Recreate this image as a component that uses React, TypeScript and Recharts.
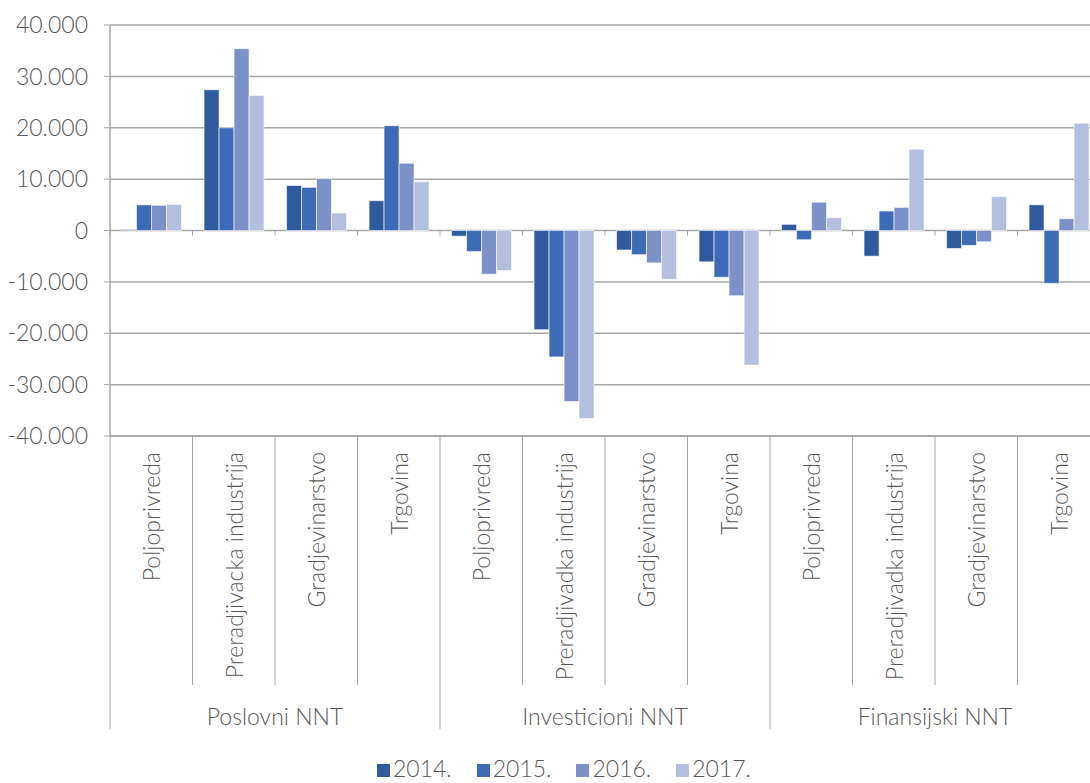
import { BarChart, Bar, XAxis, YAxis, CartesianGrid, Legend } from "recharts";

const groups = ["Poslovni NNT", "Investicioni NNT", "Finansijski NNT"];
const sectors = [
    ["Poljoprivreda", "Preradjivacka industrija", "Gradjevinarstvo", "Trgovina"],
    ["Poljoprivreda", "Preradjivadka industrija", "Gradjevinarstvo", "Trgovina"],
    ["Poljoprivreda", "Preradjivadka industrija", "Gradjevinarstvo", "Trgovina"],
];
const years = ["2014.", "2015.", "2016.", "2017."];

const v2014 = [200, 27400, 8750, 5800, -1100, -19300, -3800, -6100, 1200, -5000, -3500, 5000];
const v2015 = [5000, 20000, 8400, 20400, -4100, -24600, -4700, -9100, -1800, 3800, -2900, -10300];
const v2016 = [4900, 35400, 10100, 13100, -8500, -33300, -6300, -12700, 5500, 4500, -2200, 2300];
const v2017 = [5100, 26300, 3400, 9500, -7800, -36600, -9500, -26200, 2500, 15800, 6600, 20900];

const yTicks = [-40000, -30000, -20000, -10000, 0, 10000, 20000, 30000, 40000];
const colors = ["#2f5a9e", "#3e6bb5", "#7b91c8", "#b4bfdf"];

const data = groups.flatMap((g, gi) =>
    sectors[gi].map((s, si) => {
        const i = gi * 4 + si;
        return { key: `${gi}-${si}`, sector: s, group: g, y2014: v2014[i], y2015: v2015[i], y2016: v2016[i], y2017: v2017[i] };
    })
);

const textColor = "#595959";
const lineColor = "#a6a6a6";
const font = "Lato, 'Open Sans', sans-serif";
const fs = 23;

const fmt = (v: number) => {
    if (v === 0) return "0";
    const a = Math.abs(v);
    const s = a >= 1000 ? `${Math.floor(a / 1000)}.${String(a % 1000).padStart(3, "0")}` : String(a);
    return (v < 0 ? "-" : "") + s;
};

// chart is 1100 wide (plot runs past the right edge of the 1090 page)
const CHART_H = 783;
const TOP = 25;
const AXIS_H = 347;
const PLOT_H = CHART_H - TOP - AXIS_H;
const BAND = 990 / 12;

const CategoryTick = (props: any) => {
    const { x, y, index } = props;
    const d = data[index];
    const left = x - BAND / 2;
    const isGroupStart = index % 4 === 0;
    const zeroY = y - PLOT_H / 2; // domain is symmetric, zero sits mid-plot
    return (
        <g>
            <line x1={left} y1={zeroY} x2={left} y2={zeroY + 5} stroke={lineColor} strokeWidth={1} />
            <line x1={left} y1={y} x2={left} y2={y + (isGroupStart ? 293 : 249)} stroke={lineColor} strokeWidth={1} />
            <text
                x={x}
                y={y + 16}
                transform={`rotate(-90, ${x}, ${y + 16})`}
                textAnchor="end"
                dominantBaseline="central"
                fill={textColor}
                fontSize={fs}
                fontWeight={300}
                fontFamily={font}
            >
                {d.sector}
            </text>
            {index % 4 === 1 && (
                <text
                    x={x + BAND / 2}
                    y={y + 280}
                    textAnchor="middle"
                    dominantBaseline="central"
                    fill={textColor}
                    fontSize={fs}
                    fontWeight={300}
                    fontFamily={font}
                >
                    {d.group}
                </text>
            )}
        </g>
    );
};

const LegendContent = (props: any) => {
    const { payload } = props;
    return (
        <div style={{ display: "flex", fontFamily: font, fontWeight: 300, fontSize: fs, color: textColor, lineHeight: "24px" }}>
            {payload.map((p: any) => (
                <div key={p.value} style={{ display: "flex", alignItems: "center", marginRight: 25 }}>
                    <span style={{ width: 13, height: 13, background: p.color, display: "inline-block", marginRight: 3, marginTop: 4 }} />
                    <span>{p.value}</span>
                </div>
            ))}
        </div>
    );
};

export default function App() {
    return (
        <div style={{ position: "absolute", left: 0, top: 0, width: 1090, height: CHART_H, overflow: "hidden", background: "#fff" }}>
            <BarChart
                width={1100}
                height={CHART_H}
                data={data}
                margin={{ top: TOP, right: 0, bottom: 0, left: 0 }}
                barCategoryGap="14%"
                barGap={0}
            >
                <CartesianGrid vertical={false} stroke={lineColor} strokeWidth={1.5} />
                <XAxis
                    dataKey="key"
                    height={AXIS_H}
                    interval={0}
                    tickLine={false}
                    tickSize={0}
                    tickMargin={0}
                    axisLine={{ stroke: lineColor, strokeWidth: 1.5 }}
                    tick={<CategoryTick />}
                />
                <YAxis
                    width={110}
                    domain={[-40000, 40000]}
                    ticks={yTicks}
                    tickFormatter={fmt}
                    tickSize={6}
                    tickMargin={16}
                    axisLine={{ stroke: lineColor, strokeWidth: 1.5 }}
                    tickLine={{ stroke: lineColor }}
                    tick={{ fill: textColor, fontSize: fs, fontWeight: 300, fontFamily: font }}
                    allowDataOverflow
                />
                <Legend
                    layout="horizontal"
                    verticalAlign="middle"
                    align="center"
                    wrapperStyle={{ top: 756, left: 377, width: "auto" }}
                    content={<LegendContent />}
                />
                <Bar dataKey="y2014" name={years[0]} fill={colors[0]} stroke="#ffffff" strokeOpacity={0.6} isAnimationActive={false} />
                <Bar dataKey="y2015" name={years[1]} fill={colors[1]} stroke="#ffffff" strokeOpacity={0.6} isAnimationActive={false} />
                <Bar dataKey="y2016" name={years[2]} fill={colors[2]} stroke="#ffffff" strokeOpacity={0.6} isAnimationActive={false} />
                <Bar dataKey="y2017" name={years[3]} fill={colors[3]} stroke="#ffffff" strokeOpacity={0.6} isAnimationActive={false} />
            </BarChart>
        </div>
    );
}
